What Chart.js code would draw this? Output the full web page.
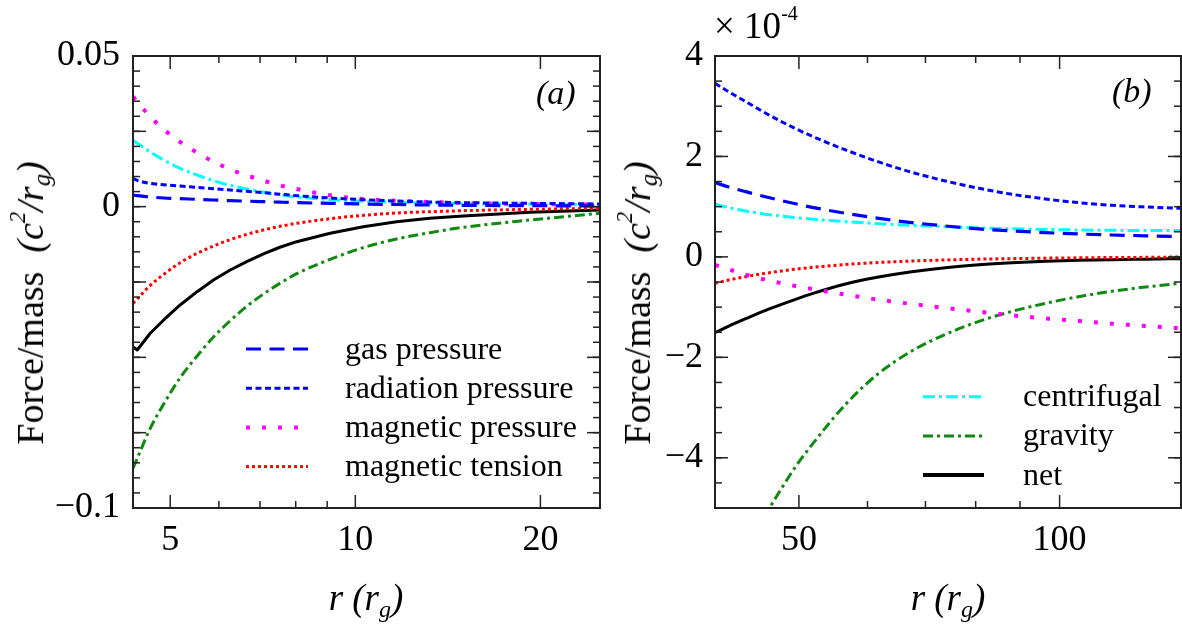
<!DOCTYPE html>
<html><head><meta charset="utf-8">
<script src="https://cdn.jsdelivr.net/npm/chart.js@4/dist/chart.umd.min.js"></script>
<style>
html,body{margin:0;padding:0;background:#fff;}
#wrap{position:relative;width:1182px;height:626px;overflow:hidden;font-family:"Liberation Serif","Times New Roman",serif;color:#000;}
canvas{position:absolute;top:0;}
.t{position:absolute;white-space:nowrap;line-height:1;}
.t sup{font-size:0.6em;vertical-align:0.8em;line-height:0;}
.t sub{font-size:0.65em;vertical-align:-0.3em;line-height:0;}
</style></head><body>
<div id="wrap">
<canvas id="ca" width="610" height="626" style="left:0px"></canvas>
<canvas id="cb" width="577" height="626" style="left:605px"></canvas>
<div class="t" style="left:30px;top:303px;font-size:38px;transform:translate(-50%,-50%) rotate(-90deg)">Force/mass&nbsp;&nbsp;<i>(c<sup>2</sup>/r<sub>g</sub>)</i></div>
<div class="t" style="left:637px;top:303px;font-size:38px;transform:translate(-50%,-50%) rotate(-90deg)">Force/mass&nbsp;&nbsp;<i>(c<sup>2</sup>/r<sub>g</sub>)</i></div>
<div class="t" style="left:366px;top:597px;font-size:37px;transform:translate(-50%,-50%)"><i>r (r<sub>g</sub>)</i></div>
<div class="t" style="left:948px;top:597px;font-size:37px;transform:translate(-50%,-50%)"><i>r (r<sub>g</sub>)</i></div>
<div class="t" style="left:536px;top:76px;font-size:34px;"><i>(a)</i></div>
<div class="t" style="left:1112px;top:74px;font-size:34px;"><i>(b)</i></div>
<div class="t" style="left:714px;top:7px;font-size:37px;">× 10<span style="font-size:20px;position:relative;top:-18px;">-4</span></div>
</div>
<script>
// ---------- data: panel (a) ----------
const rA    = [4.35, 4.42, 4.64, 4.88, 5.19, 5.53, 5.88, 6.26, 6.66, 7.09, 7.54, 8.03, 9.10, 10.3, 11.67, 13.22, 14.98, 19.24, 25];
const gasA  = [0.00387, 0.00365, 0.00321, 0.00288, 0.00266, 0.00243, 0.00221, 0.00199, 0.00183, 0.00166, 0.00149, 0.00133, 0.00111, 0.00089, 0.00072, 0.00055, 0.00044, 0.00033, 0.00022];
const radA  = [0.00940, 0.00874, 0.00774, 0.00730, 0.00686, 0.00642, 0.00597, 0.00553, 0.00509, 0.00465, 0.00415, 0.00365, 0.00288, 0.00232, 0.00188, 0.00155, 0.00133, 0.00111, 0.00089];
const magPA = [0.03651, 0.03485, 0.02987, 0.02567, 0.02146, 0.01792, 0.01494, 0.01239, 0.01040, 0.00863, 0.00708, 0.00586, 0.00376, 0.00254, 0.00199, 0.00155, 0.00122, 0.00089, 0.00066];
const magTA = [-0.03208, -0.03064, -0.02611, -0.02246, -0.01859, -0.01549, -0.01305, -0.01095, -0.00918, -0.00774, -0.00653, -0.00553, -0.00398, -0.00288, -0.00210, -0.00166, -0.00133, -0.00089, -0.00055];
const centA = [0.02191, 0.02102, 0.01814, 0.01549, 0.01272, 0.01051, 0.00863, 0.00708, 0.00586, 0.00476, 0.00387, 0.00321, 0.00232, 0.00177, 0.00144, 0.00122, 0.00100, 0.00077, 0.00055];
const gravA = [-0.08685, -0.08353, -0.07357, -0.06549, -0.05675, -0.04956, -0.04326, -0.03784, -0.03308, -0.02899, -0.02545, -0.02224, -0.01748, -0.01361, -0.01073, -0.00863, -0.00686, -0.00443, -0.00220];
const netA  = [-0.04656, -0.04756, -0.04202, -0.03760, -0.03262, -0.02821, -0.02433, -0.02101, -0.01825, -0.01570, -0.01347, -0.01162, -0.00883, -0.00664, -0.00498, -0.00385, -0.00309, -0.00186, -0.00110];

// ---------- data: panel (b), in units of 1e-4 ----------
const rB    = [40, 41.5, 43.4, 45.35, 47.4, 49.55, 51.8, 56.6, 61.8, 67.5, 73.8, 80.7, 88.1, 96.3, 105.2, 114.9, 125.6, 138.1];
const gasB  = [1.478, 1.392, 1.299, 1.213, 1.133, 1.057, 0.987, 0.868, 0.768, 0.682, 0.616, 0.556, 0.516, 0.483, 0.456, 0.436, 0.420, 0.403];
const radB  = [3.457, 3.285, 3.092, 2.900, 2.720, 2.554, 2.402, 2.130, 1.891, 1.684, 1.512, 1.366, 1.246, 1.153, 1.080, 1.027, 0.994, 0.967];
const magPB = [-0.161, -0.248, -0.354, -0.440, -0.513, -0.580, -0.639, -0.752, -0.852, -0.938, -1.018, -1.091, -1.164, -1.224, -1.277, -1.330, -1.376, -1.423];
const magTB = [-0.527, -0.460, -0.394, -0.337, -0.288, -0.244, -0.208, -0.151, -0.112, -0.082, -0.062, -0.045, -0.035, -0.025, -0.019, -0.012, -0.009, -0.002];
const centB = [1.047, 0.981, 0.914, 0.861, 0.818, 0.782, 0.752, 0.702, 0.662, 0.629, 0.603, 0.579, 0.559, 0.546, 0.536, 0.529, 0.526, 0.523];
const gravB = [-7.034, -6.436, -5.805, -5.241, -4.697, -4.179, -3.734, -2.937, -2.320, -1.875, -1.543, -1.284, -1.085, -0.925, -0.792, -0.686, -0.600, -0.527];
const netB  = [-1.510, -1.377, -1.231, -1.091, -0.965, -0.845, -0.732, -0.540, -0.401, -0.295, -0.215, -0.158, -0.118, -0.088, -0.068, -0.055, -0.045, -0.035];

// ---------- series names ----------
const seriesNames = ["gas pressure", "radiation pressure", "magnetic pressure", "magnetic tension", "centrifugal", "gravity", "net"];

// ---------- ticks ----------
const xTicksA = [5, 10, 20];
const xLabelsA = ["5", "10", "20"];
const xMinorA = [6, 7, 8, 9];
const yTicksA = [0.05, 0, -0.1];
const yLabelsA = ["0.05", "0", "\u22120.1"];
const yMajorA = [0.05, 0.025, 0, -0.025, -0.05, -0.075, -0.1];

const xTicksB = [50, 100];
const xLabelsB = ["50", "100"];
const xMinorB = [60, 70, 80, 90];
const yTicksB = [4, 2, 0, -2, -4];
const yLabelsB = ["4", "2", "0", "\u22122", "\u22124"];
const yMajorB = [4, 2, 0, -2, -4];

// ---------- styles ----------
const styles = [
  {c: "#0000ff", w: 3.2, d: [15, 8.5]},
  {c: "#0000ff", w: 3, d: [6, 3.5]},
  {c: "#ff00ff", w: 4, d: [4, 12]},
  {c: "#ff0000", w: 3, d: [3, 3]},
  {c: "#00ffff", w: 3, d: [12, 4, 3, 4]},
  {c: "#118811", w: 3, d: [10, 4, 3, 4]},
  {c: "#000000", w: 3, d: []}
];

function minorRange(lo, hi, step) {
  const out = [];
  const n = Math.round((hi - lo) / step);
  for (let i = 0; i <= n; i++) out.push(lo + i * step);
  return out;
}

function makeDatasets(xs, series, straight) {
  return series.map((ys, i) => ({
    label: seriesNames[i],
    data: xs.map((x, j) => ({x: x, y: ys[j]})),
    borderColor: styles[i].c,
    borderWidth: styles[i].w,
    borderDash: styles[i].d,
    borderCapStyle: 'butt',
    borderJoinStyle: 'round',
    pointRadius: 0,
    fill: false,
    tension: 0,
    cubicInterpolationMode: straight.includes(i) ? 'default' : 'monotone'
  }));
}

function frameTicks(cfg) {
  return {
    id: 'frameTicks',
    afterDatasetsDraw(chart) {
      const ctx = chart.ctx, a = chart.chartArea, sx = chart.scales.x, sy = chart.scales.y;
      ctx.save();
      ctx.setLineDash([]);
      ctx.strokeStyle = '#222';
      ctx.lineWidth = 1.5;
      const seg = (x1, y1, x2, y2) => { ctx.beginPath(); ctx.moveTo(x1, y1); ctx.lineTo(x2, y2); ctx.stroke(); };
      const X = (list, len) => list.forEach(v => { const p = sx.getPixelForValue(v); if (p > a.left + 1 && p < a.right - 1) { seg(p, a.bottom, p, a.bottom - len); seg(p, a.top, p, a.top + len); } });
      const Y = (list, len) => list.forEach(v => { const p = sy.getPixelForValue(v); if (p > a.top + 1 && p < a.bottom - 1) { seg(a.left, p, a.left + len, p); seg(a.right, p, a.right - len, p); } });
      X(cfg.xMajor, 13); X(cfg.xMinor, 7);
      Y(cfg.yMajor, 13); Y(cfg.yMinor, 7);
      ctx.lineWidth = 2;
      ctx.strokeRect(a.left, a.top, a.right - a.left, a.bottom - a.top);
      ctx.restore();
    }
  };
}

function legendPlugin(cfg) {
  return {
    id: 'customLegend',
    afterDraw(chart) {
      const ctx = chart.ctx;
      ctx.save();
      ctx.font = cfg.font;
      ctx.textBaseline = 'alphabetic';
      cfg.items.forEach((di, k) => {
        const ds = chart.data.datasets[di];
        const yy = cfg.y0 + k * cfg.dy;
        ctx.beginPath();
        ctx.setLineDash(ds.borderDash || []);
        ctx.strokeStyle = ds.borderColor;
        ctx.lineWidth = ds.borderWidth + (di === 6 ? 1 : 0);
        ctx.lineCap = 'butt';
        ctx.moveTo(cfg.x0, yy); ctx.lineTo(cfg.x1, yy); ctx.stroke();
        ctx.setLineDash([]);
        ctx.fillStyle = '#000';
        ctx.fillText(ds.label, cfg.tx, yy + cfg.base);
      });
      ctx.restore();
    }
  };
}

const tickFont = {family: "'Liberation Serif', 'Times New Roman', serif", size: 36};

function makeChart(id, p) {
  return new Chart(document.getElementById(id), {
    type: 'line',
    data: {datasets: makeDatasets(p.xs, p.series, p.straight)},
    options: {
      responsive: false,
      animation: false,
      devicePixelRatio: 1,
      layout: {padding: {left: 0, right: p.padRight, top: 56, bottom: 0}},
      plugins: {legend: {display: false}, tooltip: {enabled: false}},
      scales: {
        x: {
          type: 'logarithmic', min: p.xmin, max: p.xmax,
          afterBuildTicks: s => { s.ticks = p.xTicks.map(v => ({value: v})); },
          afterFit: s => { s.height = 118; },
          grid: {display: false, drawTicks: false}, border: {display: false},
          ticks: {font: tickFont, color: '#000', padding: 11, maxRotation: 0, autoSkip: false,
                  callback: (v, i) => p.xLabels[i]}
        },
        y: {
          type: 'linear', min: p.ymin, max: p.ymax,
          afterBuildTicks: s => { s.ticks = p.yTicks.map(v => ({value: v})); },
          afterFit: s => { s.width = p.yWidth; },
          grid: {display: false, drawTicks: false}, border: {display: false},
          ticks: {font: tickFont, color: '#000', padding: p.yPad, autoSkip: false,
                  callback: (v, i) => p.yLabels[i]}
        }
      }
    },
    plugins: [frameTicks(p.frame), legendPlugin(p.legend)]
  });
}

makeChart('ca', {
  xs: rA, series: [gasA, radA, magPA, magTA, centA, gravA, netA], straight: [6],
  xmin: 4.35, xmax: 25, ymin: -0.1, ymax: 0.05,
  xTicks: xTicksA, xLabels: xLabelsA, yTicks: yTicksA, yLabels: yLabelsA,
  yWidth: 133, yPad: 13, padRight: 10,
  frame: {xMajor: xTicksA, xMinor: xMinorA, yMajor: yMajorA, yMinor: minorRange(-0.1, 0.05, 0.005)},
  legend: {items: [0, 1, 2, 3], x0: 246, x1: 308, tx: 345, y0: 349, dy: 39.2, base: 9.5, font: "32px 'Liberation Serif', 'Times New Roman', serif"}
});

makeChart('cb', {
  xs: rB, series: [gasB, radB, magPB, magTB, centB, gravB, netB], straight: [],
  xmin: 40, xmax: 138.1, ymin: -5, ymax: 4,
  xTicks: xTicksB, xLabels: xLabelsB, yTicks: yTicksB, yLabels: yLabelsB,
  yWidth: 110, yPad: 12, padRight: 1,
  frame: {xMajor: xTicksB, xMinor: xMinorB, yMajor: yMajorB, yMinor: minorRange(-5, 4, 0.5)},
  legend: {items: [4, 5, 6], x0: 318, x1: 379, tx: 418, y0: 396.7, dy: 39.2, base: 9.5, font: "32px 'Liberation Serif', 'Times New Roman', serif"}
});
</script>
</body></html>
